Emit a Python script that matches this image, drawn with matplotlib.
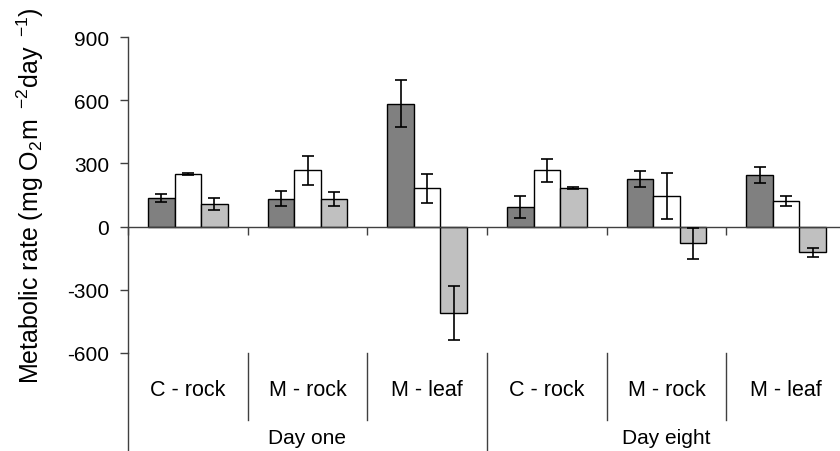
import numpy as np
import matplotlib
matplotlib.use("Agg")
import matplotlib.pyplot as plt
from matplotlib.lines import Line2D

plt.rcParams["font.family"] = ["Liberation Sans", "DejaVu Sans"]
plt.rcParams["mathtext.fontset"] = "custom"
plt.rcParams["mathtext.rm"] = "Liberation Sans"
plt.rcParams["mathtext.it"] = "Liberation Sans:italic"
plt.rcParams["mathtext.default"] = "regular"
plt.rcParams["axes.unicode_minus"] = False

# Sampling days and habitat/treatment categories
days = ["Day one", "Day eight"]
sites = ["C - rock", "M - rock", "M - leaf", "C - rock", "M - rock", "M - leaf"]

# Metabolic rates (mg O2 m-2 day-1) with error bars, three series per site
series_dark = [137, 132, 584, 92, 226, 245]
series_dark_err = [20, 36, 113, 52, 37, 40]
series_white = [248, 267, 181, 268, 146, 122]
series_white_err = [5, 70, 67, 55, 110, 22]
series_light = [108, 132, -411, 183, -79, -122]
series_light_err = [28, 33, 127, 3, 73, 21]

y_ticks = [-600, -300, 0, 300, 600, 900]

axis_col = "#404040"

fig = plt.figure(figsize=(8.4, 4.52), dpi=100)
ax = fig.add_axes([128 / 840, 98 / 452, 718 / 840, 316 / 452])

x = np.arange(len(sites))
w = 1.0 / 4.5
series = [
    (series_dark, series_dark_err, "#808080"),
    (series_white, series_white_err, "#ffffff"),
    (series_light, series_light_err, "#c0c0c0"),
]
for i, (vals, errs, col) in enumerate(series):
    pos = x + (i - 1) * w
    ax.bar(pos, vals, width=w, color=col, edgecolor="black", linewidth=1.0, zorder=2)
    ax.errorbar(pos, vals, yerr=errs, fmt="none", ecolor="black",
                elinewidth=1.2, capsize=4.5, capthick=1.2, zorder=3)

ax.set_xlim(-0.5, len(sites) - 0.5)
ax.set_ylim(-600, 900)
ax.set_yticks(y_ticks)
ax.set_yticklabels([str(t) for t in y_ticks], fontsize=15)
ax.tick_params(axis="y", direction="out", length=5.5, width=1.0,
               color=axis_col, pad=8)

# Category axis drawn through zero, with boundary ticks
ax.spines["top"].set_visible(False)
ax.spines["right"].set_visible(False)
ax.spines["bottom"].set_position(("data", 0))
ax.spines["bottom"].set_color(axis_col)
ax.spines["bottom"].set_linewidth(1.0)
ax.spines["left"].set_color(axis_col)
ax.spines["left"].set_linewidth(1.0)
bounds = np.arange(len(sites) + 1) - 0.5
ax.set_xticks(bounds)
ax.set_xticklabels([""] * len(bounds))
ax.tick_params(axis="x", direction="out", length=6, width=1.0, color=axis_col)

# Multi-level category labels beneath the plot area
tr = ax.get_xaxis_transform()
for b in bounds:
    outer = (b + 0.5) % 3 == 0
    y_end = -0.34 if outer else -0.212
    ax.add_line(Line2D([b, b], [0, y_end], transform=tr, color=axis_col,
                       linewidth=1.0, clip_on=False))
for xi, s in zip(x, sites):
    ax.text(xi, -0.114, s, transform=tr, ha="center", va="center", fontsize=15.5)
for d, day in enumerate(days):
    ax.text(d * 3 + 1, -0.266, day, transform=tr, ha="center", va="center",
            fontsize=15)

fig.text(0.036, 0.568, r"Metabolic rate (mg O$_2$m $\,^{-2}$day $\,^{-1}$)",
         rotation=90, ha="center", va="center", fontsize=18)

fig.savefig("out.png", dpi=100)
